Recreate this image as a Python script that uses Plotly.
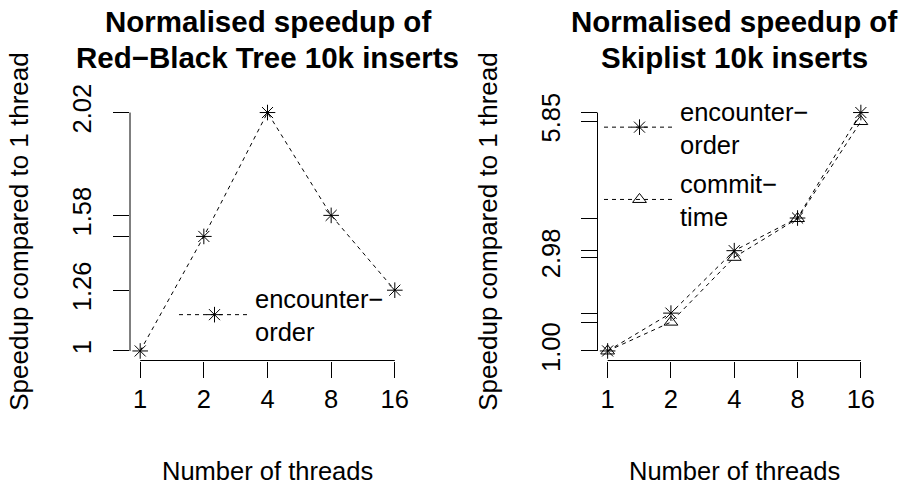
import math
import plotly.graph_objects as go

# ---------------- data ----------------
threads = [1, 2, 4, 8, 16]
thread_labels = ["1", "2", "4", "8", "16"]

rbt_encounter = [1.00, 1.49, 2.02, 1.58, 1.26]
rbt_yticks = [1.00, 1.26, 1.49, 1.58, 2.02]
rbt_ylabels = ["1", "1.26", "", "1.58", "2.02"]

skip_encounter = [1.00, 1.80, 3.12, 3.81, 6.04]
skip_commit = [1.00, 1.61, 2.98, 3.80, 5.85]
skip_yticks = [1.00, 1.61, 1.80, 2.98, 3.12, 3.80, 3.81, 5.85, 6.04]
skip_ylabels = ["1.00", "", "", "2.98", "", "", "", "5.85", ""]

title_lines = [["Normalised speedup of", "Red\u2212Black Tree 10k inserts"],
               ["Normalised speedup of", "Skiplist 10k inserts"]]
xlabel = "Number of threads"
ylabel = "Speedup compared to 1 thread"

# ---------------- style ----------------
W, H = 904, 485
FONT = "Liberation Sans, Arial, Helvetica, sans-serif"
FS = 25.5
YFS = 26
TFS = 29.5
BLACK = "black"

x_dom = [[130 / W, 405 / W], [597.5 / W, 871 / W]]
y_dom = [(H - 360.5) / H, (H - 103) / H]


def r_range(vals, log=False):
    v = [math.log10(a) for a in vals] if log else list(vals)
    lo, hi = min(v), max(v)
    pad = 0.04 * (hi - lo)
    return [lo - pad, hi + pad]


fig = go.Figure()

line_style = dict(color=BLACK, width=1, dash="4px,4px")
star = dict(symbol="asterisk-open", size=13, color=BLACK, line=dict(color=BLACK, width=1))
tri = dict(symbol="triangle-up-open", size=12, color=BLACK, line=dict(color=BLACK, width=1))

fig.add_trace(go.Scatter(x=threads, y=rbt_encounter, mode="lines+markers",
                         name="encounter\u2212<br>order", line=line_style, marker=star,
                         xaxis="x", yaxis="y", legend="legend"))
fig.add_trace(go.Scatter(x=threads, y=skip_encounter, mode="lines+markers",
                         name="encounter\u2212<br>order", line=line_style, marker=star,
                         xaxis="x2", yaxis="y2", legend="legend2", legendgroup="a"))
fig.add_trace(go.Scatter(x=threads, y=skip_commit, mode="lines+markers",
                         name="commit\u2212<br>time", line=line_style, marker=tri,
                         xaxis="x2", yaxis="y2", legend="legend2", legendgroup="b"))

axis_common = dict(showgrid=False, zeroline=False, showline=False, ticks="outside",
                   ticklen=16, tickwidth=1, tickcolor=BLACK, automargin=False,
                   tickfont=dict(family=FONT, size=FS, color=BLACK))

layout = dict(
    width=W, height=H, margin=dict(l=0, r=0, t=0, b=0, autoexpand=False),
    paper_bgcolor="white", plot_bgcolor="white",
    font=dict(family=FONT, size=FS, color=BLACK),
    xaxis=dict(domain=x_dom[0], type="log", range=r_range(threads, True),
               tickvals=threads, ticktext=thread_labels, anchor="y",
               ticklabelstandoff=0, **axis_common),
    xaxis2=dict(domain=x_dom[1], type="log", range=r_range(threads, True),
                tickvals=threads, ticktext=thread_labels, anchor="y2",
                ticklabelstandoff=0, **axis_common),
    yaxis=dict(domain=y_dom, range=r_range(rbt_encounter), tickvals=rbt_yticks,
               ticktext=rbt_ylabels, tickangle=-90, anchor="x",
               ticklabelstandoff=12, **axis_common),
    yaxis2=dict(domain=y_dom, range=r_range(skip_encounter + skip_commit),
                tickvals=skip_yticks, ticktext=skip_ylabels, tickangle=-90,
                anchor="x2", ticklabelstandoff=10, **axis_common),
    legend=dict(x=174 / W, y=(H - 315) / H, xanchor="left", yanchor="middle",
                bgcolor="rgba(0,0,0,0)", borderwidth=0, itemwidth=71,
                font=dict(family=FONT, size=FS, color=BLACK)),
    legend2=dict(x=599 / W, y=(H - 163.5) / H, xanchor="left", yanchor="middle",
                 bgcolor="rgba(0,0,0,0)", borderwidth=0, tracegroupgap=3, itemwidth=71,
                 font=dict(family=FONT, size=FS, color=BLACK)),
    showlegend=True,
)
fig.update_layout(**layout)

# R-style axis lines spanning first to last tick only
panels = [("x", "y", threads, rbt_encounter),
          ("x2", "y2", threads, skip_encounter + skip_commit)]
for xa, ya, xs, ys in panels:
    fig.add_shape(type="line", xref=xa, yref=ya + " domain", x0=min(xs), x1=max(xs),
                  y0=0, y1=0, line=dict(color=BLACK, width=1))
    fig.add_shape(type="line", xref=xa + " domain", yref=ya, x0=0, x1=0,
                  y0=min(ys), y1=max(ys), line=dict(color=BLACK, width=1))

# titles and axis labels
title_y = [22, 57]
for i, lines in enumerate(title_lines):
    cx = (x_dom[i][0] + x_dom[i][1]) / 2
    for ln, ty in zip(lines, title_y):
        fig.add_annotation(text="<b>" + ln + "</b>", x=cx, y=(H - ty) / H,
                           xref="paper", yref="paper", showarrow=False,
                           xanchor="center", yanchor="middle",
                           font=dict(family=FONT, size=TFS, color=BLACK))
    fig.add_annotation(text=xlabel, x=cx, y=(H - 471) / H, xref="paper", yref="paper",
                       showarrow=False, xanchor="center", yanchor="middle",
                       font=dict(family=FONT, size=FS, color=BLACK))
    ylx = [19, 488][i]
    fig.add_annotation(text=ylabel, x=ylx / W, y=(y_dom[0] + y_dom[1]) / 2,
                       xref="paper", yref="paper", showarrow=False, textangle=-90,
                       xanchor="center", yanchor="middle",
                       font=dict(family=FONT, size=YFS, color=BLACK))

fig.write_html("out.html", config={"displayModeBar": False},
               post_script="document.body.style.margin='0px';")
